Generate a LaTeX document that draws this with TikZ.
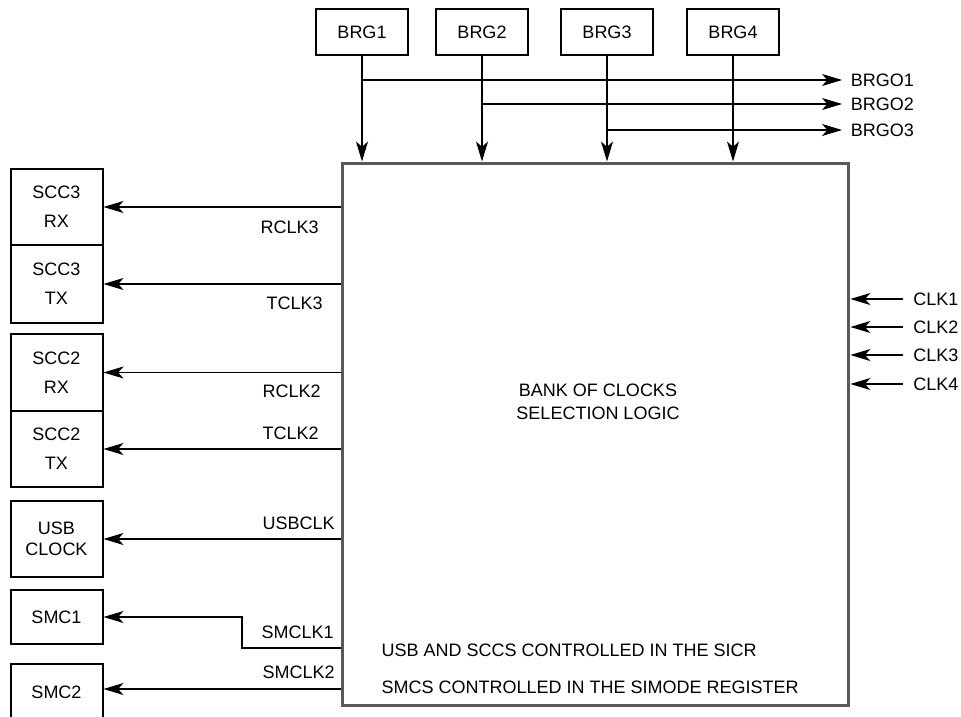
\documentclass[tikz,border=0pt]{standalone}
\usepackage{fontspec}
\setmainfont{Liberation Sans}
\usetikzlibrary{positioning,arrows.meta}
\tikzset{
    blk/.style={draw, line width=1.5pt, minimum width=69pt, align=center, inner sep=0pt, font=\fontsize{13.5}{22}\selectfont},
    lbl/.style={inner sep=1pt, font=\fontsize{13.5}{16}\selectfont},
    arr/.style={-{Stealth[length=15pt, width=9pt, inset=4pt]}, line width=1pt}
}

\begin{document}
\begin{tikzpicture}[x=0.75pt, y=-0.75pt]
    \useasboundingbox (0,0) rectangle (961,717);
    \clip (0,0) rectangle (961,717);

    \node[draw=black!65, line width=2.25pt, minimum width=380pt, minimum height=406.5pt] (bank) at (595.5,434) {};
    \node[lbl, align=center, font=\fontsize{13.5}{17.5}\selectfont] (title) at (598,402) {BANK OF CLOCKS\\SELECTION LOGIC};
    \node[lbl, anchor=west] (note1) at (380,650) {USB AND SCCS CONTROLLED IN THE SICR};
    \node[lbl, anchor=west] (note2) at (380,687) {SMCS CONTROLLED IN THE SIMODE REGISTER};

    \node[blk, minimum height=35pt] (brg1) at (362,32) {BRG1};
    \node[blk, minimum height=35pt] (brg2) at (482,32) {BRG2};
    \node[blk, minimum height=35pt] (brg3) at (607,32) {BRG3};
    \node[blk, minimum height=35pt] (brg4) at (733,32) {BRG4};

    \node[lbl, anchor=west, inner xsep=6.5pt] (brgo1) at (842,80) {BRGO1};
    \node[lbl, anchor=west, inner xsep=6.5pt] (brgo2) at (842,104) {BRGO2};
    \node[lbl, anchor=west, inner xsep=6.5pt] (brgo3) at (842,130) {BRGO3};

    \draw[arr] (brg1) -- (brg1 |- bank.north);
    \draw[arr] (brg2) -- (brg2 |- bank.north);
    \draw[arr] (brg3) -- (brg3 |- bank.north);
    \draw[arr] (brg4) -- (brg4 |- bank.north);
    \draw[arr] (brg1 |- brgo1) -- (brgo1.west);
    \draw[arr] (brg2 |- brgo2) -- (brgo2.west);
    \draw[arr] (brg3 |- brgo3) -- (brgo3.west);

    \node[blk, minimum height=57pt] (scc3rx) at (56.5,207) {SCC3\\RX};
    \node[blk, minimum height=58.5pt] (scc3tx) at (56.5,284) {SCC3\\TX};
    \node[blk, minimum height=57.75pt] (scc2rx) at (56.5,372.5) {SCC2\\RX};
    \node[blk, minimum height=57pt] (scc2tx) at (56.5,449) {SCC2\\TX};
    \node[blk, minimum height=57pt, font=\fontsize{13.5}{16}\selectfont] (usb) at (56.5,539) {USB\\CLOCK};
    \node[blk, minimum height=40.5pt] (smc1) at (56.5,617) {SMC1};
    \node[blk, minimum height=43pt] (smc2) at (56.5,692.5) {SMC2};

    \draw[arr] (bank.west |- scc3rx) -- (scc3rx.east);
    \draw[arr] (bank.west |- scc3tx) -- (scc3tx.east);
    \draw[arr] (bank.west |- scc2rx) -- (scc2rx.east);
    \draw[arr] (bank.west |- scc2tx) -- (scc2tx.east);
    \draw[arr] (bank.west |- usb) -- (usb.east);
    \coordinate (jog) at (242,648);
    \draw[arr] (bank.west |- jog) -- (jog) |- (smc1.east);
    \coordinate (s2) at (0,689);
    \draw[arr] (bank.west |- s2) -- (smc2.east |- s2);

    \node[lbl, anchor=west] (rclk3) at (259,227) {RCLK3};
    \node[lbl, anchor=west] (tclk3) at (265,303) {TCLK3};
    \node[lbl, anchor=west] (rclk2) at (261,391) {RCLK2};
    \node[lbl, anchor=west] (tclk2) at (261,433) {TCLK2};
    \node[lbl, anchor=west] (usbclk) at (261,523) {USBCLK};
    \node[lbl, anchor=west] (smclk1) at (260,632) {SMCLK1};
    \node[lbl, anchor=west] (smclk2) at (261,672) {SMCLK2};

    \node[lbl, anchor=west, inner xsep=7.5pt] (clk1) at (903,299) {CLK1};
    \node[lbl, anchor=west, inner xsep=7.5pt] (clk2) at (903,327) {CLK2};
    \node[lbl, anchor=west, inner xsep=7.5pt] (clk3) at (903,355) {CLK3};
    \node[lbl, anchor=west, inner xsep=7.5pt] (clk4) at (903,384) {CLK4};
    \draw[arr] (clk1.west) -- (bank.east |- clk1);
    \draw[arr] (clk2.west) -- (bank.east |- clk2);
    \draw[arr] (clk3.west) -- (bank.east |- clk3);
    \draw[arr] (clk4.west) -- (bank.east |- clk4);
\end{tikzpicture}
\end{document}
